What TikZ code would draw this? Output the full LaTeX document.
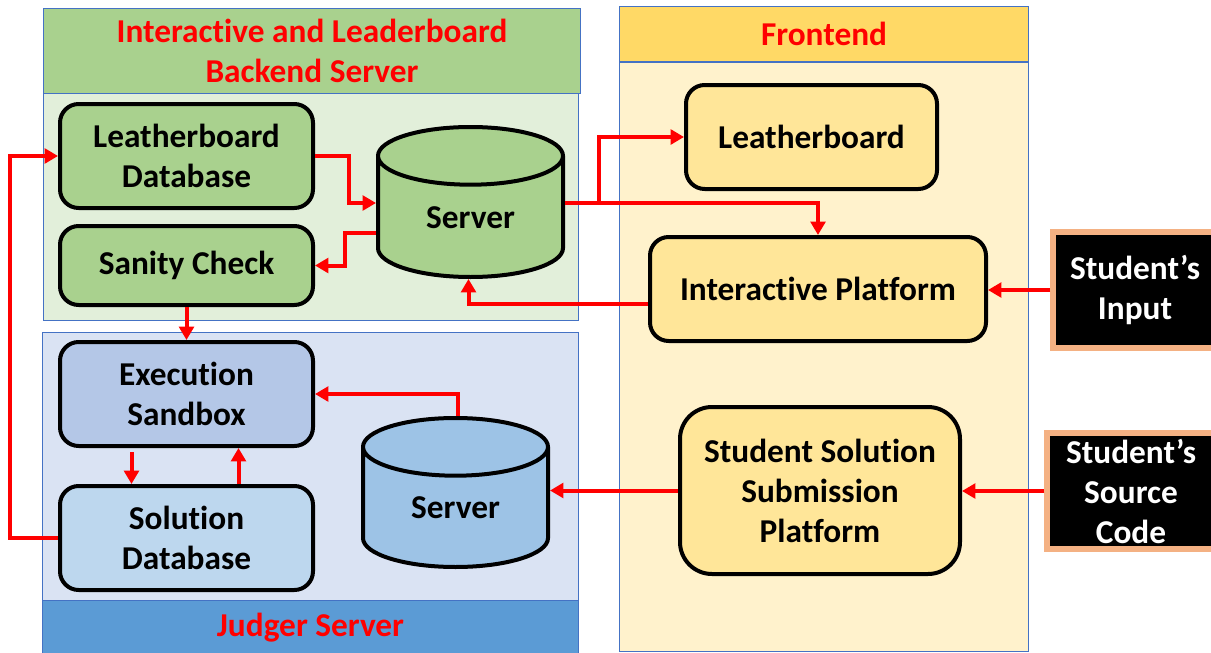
\documentclass[tikz,border=0pt]{standalone}
\usepackage{fontspec}
\setmainfont{Carlito}[Ligatures=NoCommon]
\usetikzlibrary{arrows.meta,positioning,shapes.geometric,calc}

\definecolor{headgreen}{HTML}{A9D18E}
\definecolor{bodygreen}{HTML}{E2EFDA}
\definecolor{bodyblue}{HTML}{DAE3F3}
\definecolor{footblue}{HTML}{5B9BD5}
\definecolor{headyellow}{HTML}{FFD966}
\definecolor{bodyyellow}{HTML}{FFF2CC}
\definecolor{boxyellow}{HTML}{FFE699}
\definecolor{boxblue}{HTML}{B4C7E7}
\definecolor{boxlightblue}{HTML}{BDD7EE}
\definecolor{dbblue}{HTML}{9DC3E6}
\definecolor{grpline}{HTML}{4472C4}
\definecolor{extline}{HTML}{F4B183}

\def\pxu{0.75pt}

\begin{document}
\begin{tikzpicture}[x=0.75pt, y=-0.75pt, font=\fontsize{25}{30}\selectfont\bfseries, >={Triangle[length=10pt,width=11pt]}]
\tikzstyle{grp}=[draw=grpline, line width=0.8pt, inner sep=0pt, anchor=north west, align=center, text=red]
\tikzstyle{box}=[draw=black, line width=3pt, rounded corners=14pt, align=center, inner sep=0pt]
\tikzstyle{db}=[cylinder, shape border rotate=90, draw=black, line width=3pt, aspect=0.65, inner sep=0pt, anchor=shape center]
\tikzstyle{ext}=[fill=black, draw=extline, line width=4pt, text=white, align=center, inner sep=0pt]
\tikzstyle{flow}=[->, draw=red, line width=3pt]
\useasboundingbox (0,0) rectangle (1211,653);

% group panels
\node[grp, fill=headgreen, minimum width=537*\pxu, minimum height=85*\pxu] (backhead) at (43,8) {Interactive and Leaderboard\\Backend Server};
\node[grp, fill=bodygreen, minimum width=535*\pxu, minimum height=227*\pxu] (backbody) at (43,93) {};
\node[grp, fill=bodyblue, minimum width=536*\pxu, minimum height=268*\pxu] (judgebody) at (42,332) {};
\node[grp, fill=footblue, minimum width=536*\pxu, minimum height=55*\pxu] (judgefoot) at (42,600) {Judger Server};
\node[grp, fill=bodyyellow, minimum width=409*\pxu, minimum height=590*\pxu] (frontbody) at (619,61) {};
\node[grp, fill=headyellow, minimum width=409*\pxu, minimum height=55*\pxu] (fronthead) at (619,6) {Frontend};
\draw[grpline, line width=1.5pt] (fronthead.south west) -- (fronthead.south east);

% backend
\node[box, fill=headgreen, minimum width=253*\pxu, minimum height=104*\pxu] (lbdb) at (186.5,156) {Leatherboard\\Database};
\node[box, fill=headgreen, minimum width=253*\pxu, minimum height=79*\pxu] (sanity) at (186.5,265.5) {Sanity Check};
\node[db, fill=headgreen, minimum width=185*\pxu, minimum height=150*\pxu] (srvA) at (470.5,202) {Server};
\coordinate (srvAw) at (srvA.west |- srvA.shape center);
\coordinate (srvAe) at (srvA.east |- srvA.shape center);

% judger
\node[box, fill=boxblue, minimum width=253*\pxu, minimum height=104*\pxu] (exec) at (186.5,394) {Execution\\Sandbox};
\node[box, fill=boxlightblue, minimum width=253*\pxu, minimum height=104*\pxu] (soldb) at (186.5,538) {Solution\\Database};
\node[db, fill=dbblue, minimum width=185*\pxu, minimum height=149*\pxu] (srvB) at (455.5,492.5) {Server};

% frontend
\node[box, fill=boxyellow, minimum width=251*\pxu, minimum height=104*\pxu] (lboard) at (811.5,137) {Leatherboard};
\node[box, fill=boxyellow, minimum width=336*\pxu, minimum height=104*\pxu] (iplat) at (818,289) {Interactive Platform};
\node[box, fill=boxyellow, minimum width=280*\pxu, minimum height=167*\pxu, rounded corners=24pt] (subplat) at (820,490.5) {Student Solution\\Submission\\Platform};

% student side
\node[ext, minimum width=164*\pxu, minimum height=116*\pxu] (sinput) at (1135,290) {Student’s\\Input};
\node[ext, minimum width=168*\pxu, minimum height=116*\pxu] (scode) at (1131,491) {Student’s\\Source\\Code};

% flows
\draw[flow] (soldb.west) -- ++(-48,0) |- (lbdb.west);
\draw[flow] (lbdb.east) -- ++(34,0) |- ($(srvAw)+(0,1)$);
\draw[flow] ($(srvAw)+(0,31)$) -- ++(-31,0) |- (sanity.east);
\draw[flow] ($(srvAe)+(0,1)$) -- ++(34,0) |- (lboard.west);
\draw[flow] ($(srvAe)+(0,1)$) -| (iplat.north);
\draw[flow] ($(iplat.west)+(0,15)$) -| ($(srvA.south)+(-2,0)$);
\draw[flow] (sinput.west) -- (sinput.west -| iplat.east);
\draw[flow] (sanity.south) -- (exec.north);
\draw[flow] ($(exec.south)+(-55,4)$) -- ($(soldb.north)+(-55,0)$);
\draw[flow] ($(soldb.north)+(52,0)$) -- ($(exec.south)+(52,0)$);
\draw[flow] ($(srvB.north)+(2,0)$) |- (exec.east);
\draw[flow] (subplat.west) -- (subplat.west -| srvB.east);
\draw[flow] (scode.west) -- (scode.west -| subplat.east);
\end{tikzpicture}
\end{document}
